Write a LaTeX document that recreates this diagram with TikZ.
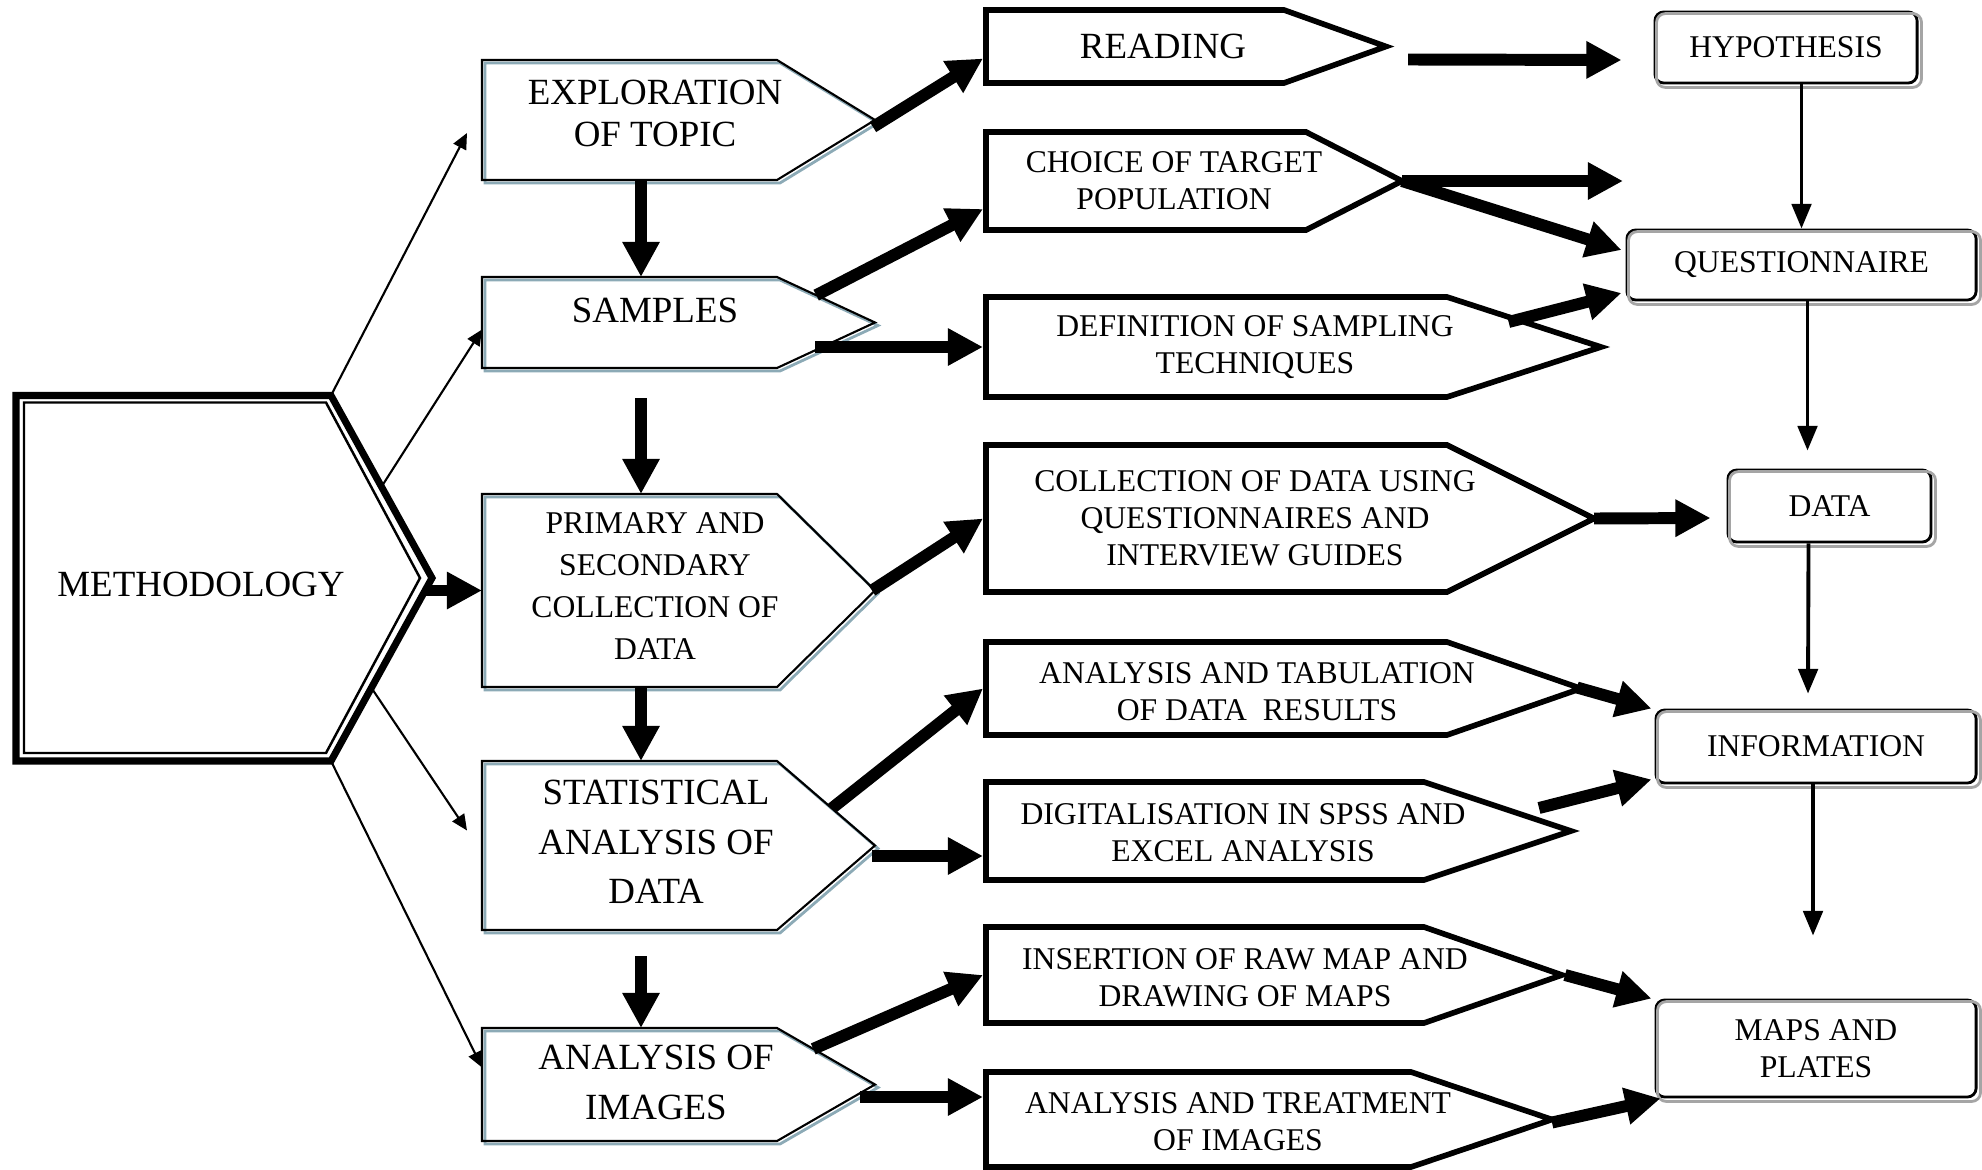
\documentclass[tikz,border=0pt]{standalone}
\usepackage{fontspec}
\setmainfont{Liberation Serif}
\usetikzlibrary{arrows.meta,calc}
\definecolor{shadeblue}{RGB}{140,170,182}
\definecolor{shadegray}{RGB}{165,165,165}
\begin{document}
\begin{tikzpicture}[x=0.01cm, y=-0.01cm, line join=miter,
  bigarrow/.style={line width=3.4pt, -{Triangle[length=10pt,width=10pt]}},
  thinarrow/.style={line width=0.6pt, -{Triangle[length=4.5pt,width=4pt]}},
  downarrow/.style={line width=1.1pt, -{Triangle[length=7pt,width=5.5pt]}},
  leftbox/.style={line width=0.6pt},
  leftshade/.style={shadeblue, line width=0.8pt},
  midbox/.style={line width=1.6pt},
  lefttxt/.style={align=center, font=\fontsize{10.5}{12.2}\selectfont},
  midtxt/.style={align=center, font=\fontsize{9}{10.5}\selectfont},
  endbox/.style={draw, line width=0.8pt, rounded corners=2.5pt, align=center, font=\fontsize{9}{10.5}\selectfont},
  endshade/.style={shadegray, line width=0.8pt, rounded corners=2.5pt}]
\useasboundingbox (0,0) rectangle (1982,1170);
% Methodology
\draw[line width=2pt] (16,395.5) -- (331,395.5) coordinate (meth-ne) -- (432,578) coordinate (meth-tip) -- (331,761) coordinate (meth-se) -- (16,761) -- cycle;
\draw[line width=0.7pt] (24,402.5) -- (326,402.5) -- (420,578) -- (326,753) -- (24,753) -- cycle;
\node[lefttxt] (meth) at (201,584) {METHODOLOGY};
% Linker kolom
\foreach \n/\t/\b in {expl/60/180, samp/277/368, prim/494/687, stat/761/930, img/1028/1141}
{
  \draw[leftshade, shift={(3,3)}] (482,\t) -- (777,\t) -- (875,{(\t+\b)/2}) -- (777,\b) -- (482,\b) -- cycle;
  \draw[leftbox] (482,\t) -- (777,\t) coordinate (\n-ne) -- (875,{(\t+\b)/2}) coordinate (\n-tip) -- (777,\b) coordinate (\n-se) -- (482,\b) -- cycle;
  \coordinate (\n-w) at (482,{(\t+\b)/2});
  \coordinate (\n-n) at (641,\t);
  \coordinate (\n-s) at (641,\b);
}
\node[lefttxt] (expl) at (655,113.5) {EXPLORATION\\OF TOPIC};
\node[lefttxt] (samp) at (655,310) {SAMPLES};
\node[lefttxt, font=\fontsize{9}{12}\selectfont] (prim) at (655,586) {PRIMARY AND\\SECONDARY\\COLLECTION OF\\DATA};
\node[lefttxt, font=\fontsize{10.5}{14}\selectfont] (stat) at (656,842) {STATISTICAL\\ANALYSIS OF\\DATA};
\node[lefttxt, font=\fontsize{10.5}{14.2}\selectfont] (img) at (656,1082) {ANALYSIS OF\\IMAGES};
% Middelste kolom
\foreach \n/\t/\b/\c/\p in {read/10/83/1284/1386, choice/132/230/1306/1402, def/297/397/1447/1601, coll/445/592/1447/1594, tab/642/735/1447/1581, dig/782/880/1424/1571, ins/927/1023/1424/1562, treat/1072/1167/1411/1552}
{
  \draw[midbox] (986,\t) -- (\c,\t) coordinate (\n-ne) -- (\p,{(\t+\b)/2}) coordinate (\n-tip) -- (\c,\b) -- (986,\b) -- cycle;
  \coordinate (\n-w) at (983,{(\t+\b)/2});
}
\node[midtxt, font=\fontsize{10.5}{12}\selectfont] (read) at (1163,46) {READING};
\node[midtxt] (choice) at (1174,181) {CHOICE OF TARGET\\POPULATION};
\node[midtxt] (def) at (1255,347) {DEFINITION OF SAMPLING\\TECHNIQUES};
\node[midtxt] (coll) at (1255,518) {COLLECTION OF DATA USING\\QUESTIONNAIRES AND\\INTERVIEW GUIDES};
\node[midtxt] (tab) at (1257,692) {ANALYSIS AND TABULATION\\OF DATA\ \ RESULTS};
\node[midtxt] (dig) at (1243,833) {DIGITALISATION IN SPSS AND\\EXCEL ANALYSIS};
\node[midtxt] (ins) at (1245,978) {INSERTION OF RAW MAP AND\\DRAWING OF MAPS};
\node[midtxt] (treat) at (1238,1122) {ANALYSIS AND TREATMENT\\OF IMAGES};
% Rechter kolom
\node[endbox, minimum width=2.62cm, minimum height=0.71cm] (hyp) at (1786,47.5) {HYPOTHESIS};
\node[endbox, minimum width=3.49cm, minimum height=0.70cm] (quest) at (1801.5,265) {QUESTIONNAIRE};
\node[endbox, minimum width=2.03cm, minimum height=0.72cm] (data) at (1829.5,506) {DATA};
\node[endbox, minimum width=3.20cm, minimum height=0.73cm] (info) at (1816,746.5) {INFORMATION};
\node[endbox, minimum width=3.20cm, minimum height=0.97cm] (maps) at (1816,1048.5) {MAPS AND\\PLATES};
\foreach \n in {hyp,quest,data,info,maps}
  \draw[endshade] ($(\n.north west)+(3,3)$) rectangle ($(\n.south east)+(3,3)$);
% Pijlen uit methodology
\draw[thinarrow] (meth-ne) -- ($(expl-w)+(-15,13)$);
\draw[thinarrow] ($(meth-ne)!0.5!(meth-tip)$) -- ($(samp-w)+(0,7)$);
\draw[bigarrow] ($(meth-tip |- prim-w)+(-6,0)$) -- (prim-w);
\draw[thinarrow] ($(meth-tip)!0.6!(meth-se)$) -- ($(stat-w)+(-15,-15)$);
\draw[thinarrow] (meth-se) -- ($(img-w)+(0,-17)$);
% Linker kolom omlaag
\draw[bigarrow] (expl-s) -- (samp-n);
\draw[bigarrow] ($(samp-s)+(0,30)$) -- (prim-n);
\draw[bigarrow] (prim-s) -- (stat-n);
\draw[bigarrow] ($(stat-s)+(0,26)$) -- (img-n);
% Naar middelste kolom
\draw[bigarrow] ($(expl-tip)+(-2,7)$) -- ($(read-w)+(0,12)$);
\draw[bigarrow] ($(samp-ne)!0.4!(samp-tip)$) -- ($(choice-w)+(0,28)$);
\draw[bigarrow] ($(samp-tip |- def-w)+(-60,0)$) -- (def-w);
\draw[bigarrow] ($(prim-tip)+(-3,0)$) -- (coll-w);
\draw[bigarrow] ($(stat-ne)!0.56!(stat-tip)$) -- (tab-w);
\draw[bigarrow] ($(stat-tip)+(-3,10.5)$) -- ($(dig-w)+(0,25)$);
\draw[bigarrow] ($(img-ne)!0.37!(img-tip)$) -- (ins-w);
\draw[bigarrow] ($(img-tip)+(-15,12.5)$) -- ($(treat-w)+(0,-22.5)$);
% Naar rechter kolom
\coordinate (choice-end) at (1623,181);
\draw[bigarrow] ($(read-tip)+(22,13)$) -- ($(hyp.west)+(-32,12.5)$);
\draw[bigarrow] (choice-tip) -- (choice-end);
\draw[bigarrow] (choice-tip) -- ($(quest.west)+(-4,-15)$);
\draw[bigarrow] ($(def-ne)!0.4!(def-tip)+(0,5)$) -- ($(quest.west)+(-4,28)$);
\draw[bigarrow] (coll-tip) -- ($(data.west)+(-16,12)$);
\draw[bigarrow] ($(tab-tip)+(-4,-1)$) -- ($(info.north west)+(-3,0)$);
\draw[bigarrow] ($(dig-tip)+(-32,-23)$) -- ($(info.south west)+(-3,-5)$);
\draw[bigarrow] ($(ins-tip)+(3,0)$) -- ($(maps.north west)+(-3,0)$);
\draw[bigarrow] ($(treat-tip)+(0,3)$) -- ($(maps.south west)+(6,0)$);
% Rechter kolom omlaag
\draw[downarrow] (hyp.south -| quest.north) -- (quest.north);
\draw[downarrow] ($(quest.south)+(6,0)$) -- ($(data.north -| quest.south)+(6,-18)$);
\draw[downarrow] ($(data.south)+(-21,0)$) -- ($(info.north)+(-8,-15)$);
\draw[downarrow] ($(info.south)+(-3,0)$) -- ($(maps.north)+(-3,-63)$);
\end{tikzpicture}
\end{document}
